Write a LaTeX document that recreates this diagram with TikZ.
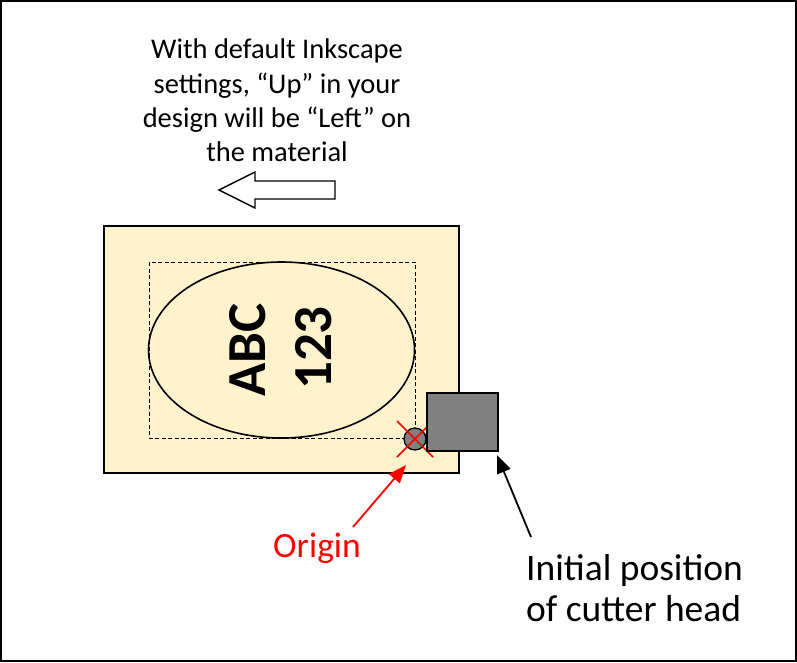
\documentclass[tikz,border=0pt]{standalone}
\usepackage{fontspec}
\setmainfont{Carlito}
\usetikzlibrary{arrows.meta,shapes.geometric}
\definecolor{mat}{HTML}{FFF2CC}
\definecolor{headgray}{HTML}{808080}
\begin{document}
\begin{tikzpicture}[x=1pt,y=-1pt,
  frame/.style={draw=black,line width=1.6pt},
  material/.style={draw=black,fill=mat,line width=1.6pt},
  dashbox/.style={draw=black,dashed,line width=0.8pt,dash pattern=on 4pt off 2.5pt},
  oval/.style={draw=black,line width=1.6pt},
  headbox/.style={draw=black,fill=headgray,line width=1.7pt},
  bigtxt/.style={font=\bfseries\fontsize{55}{66}\selectfont,inner sep=0pt},
  pointer/.style={line width=1.8pt,-{Triangle[length=18pt,width=14pt]}},
  redx/.style={draw=red,line width=1.6pt}]
\useasboundingbox (0,0) rectangle (797,662);
\draw[frame] (1,1) rectangle (796,661);
% top text
\node[align=center,font=\fontsize{28.5}{34.3}\selectfont,inner sep=0pt,anchor=north] (note) at (277,39)
  {With default Inkscape\\settings, “Up” in your\\design will be “Left” on\\the material};
% hollow arrow
\draw[line width=1.4pt,fill=white] (335,181) -- (255,181) -- (255,172) -- (219,190) -- (255,208) -- (255,199) -- (335,199) -- cycle;
% material
\draw[material] (104,226) rectangle (459,473);
\draw[dashbox] (149,262) rectangle (415,438);
\node[oval,ellipse,minimum width=266pt,minimum height=176pt,inner sep=0pt] (ell) at (281.5,350) {};
\node[bigtxt,rotate=90] (abc) at (247.5,350) {ABC};
\node[bigtxt,rotate=90] (num) at (314,348) {123};
% origin marker
\node[circle,draw=black,fill=headgray,line width=1.3pt,minimum size=22pt,inner sep=0pt] (orig) at (415,439) {};
\draw[redx] (397,421) -- (433,457);
\draw[redx] (433,421) -- (397,457);
% cutter head
\node[headbox,minimum width=71pt,minimum height=58pt,inner sep=0pt,anchor=north west] (head) at (426,392) {};
% labels
\node[text=red,font=\fontsize{35.5}{40}\selectfont,inner sep=0pt,anchor=base] (olabel) at (317,557) {Origin};
\node[align=left,font=\fontsize{37.5}{41}\selectfont,inner sep=0pt,anchor=base west] (hlabel) at (526,621) {Initial position\\of cutter head};
\coordinate (otail) at (353,527);
\coordinate (otip) at (406,465);
\coordinate (htail) at (531,537);
\coordinate (htip) at (497,455);
\draw[pointer,red] (otail) -- (otip);
\draw[pointer,black] (htail) -- (htip);
\end{tikzpicture}
\end{document}
